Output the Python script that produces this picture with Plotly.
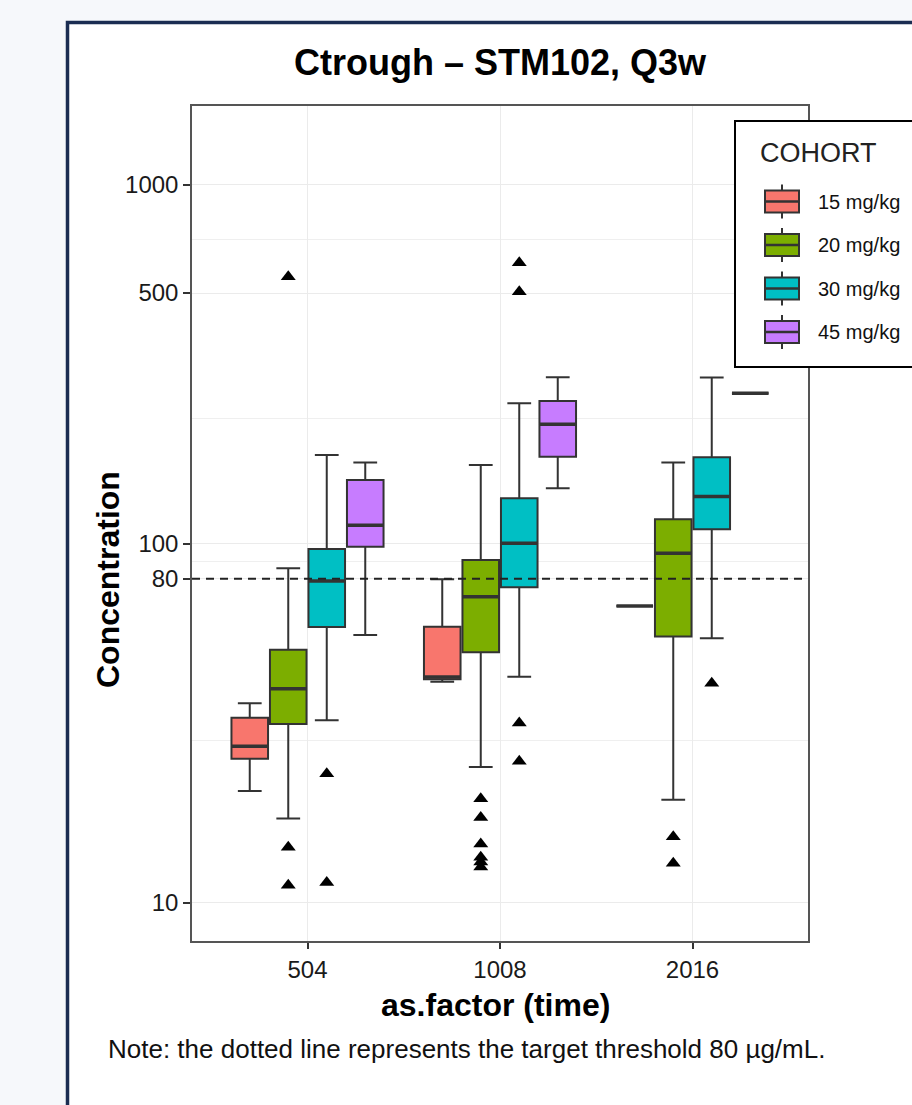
import numpy as np
import plotly.graph_objects as go

# ---------------- data ----------------
times = ["504", "1008", "2016"]
cohorts = ["15 mg/kg", "20 mg/kg", "30 mg/kg", "45 mg/kg"]
colors = ["#F8766D", "#7CAE00", "#00BFC4", "#C77CFF"]

# per-cohort box statistics at times 504, 1008, 2016
lower_15 = [20.5, 41.3, 67.2]
q1_15 = [25.2, 42.0, 67.2]
median_15 = [27.3, 42.6, 67.2]
q3_15 = [32.8, 58.8, 67.2]
upper_15 = [36.0, 79.7, 67.2]

lower_20 = [17.2, 23.9, 19.4]
q1_20 = [31.5, 49.9, 55.2]
median_20 = [39.5, 71.3, 94.2]
q3_20 = [50.7, 90.2, 117.2]
upper_20 = [85.6, 166.0, 168.5]

lower_30 = [32.3, 42.7, 54.6]
q1_30 = [58.7, 75.8, 109.9]
median_30 = [78.9, 100.5, 135.5]
q3_30 = [96.8, 134.0, 174.4]
upper_30 = [177.0, 246.6, 291.0]

lower_45 = [55.8, 143.0, 263.0]
q1_45 = [98.3, 175.1, 263.0]
median_45 = [112.7, 215.5, 263.0]
q3_45 = [150.8, 250.2, 263.0]
upper_45 = [168.5, 291.3, 263.0]

# outliers
outlier_time = ["504", "504", "504", "504", "504",
                "1008", "1008", "1008", "1008", "1008", "1008",
                "1008", "1008", "1008", "1008",
                "2016", "2016", "2016"]
outlier_cohort = ["20 mg/kg", "20 mg/kg", "20 mg/kg", "30 mg/kg", "30 mg/kg",
                  "20 mg/kg", "20 mg/kg", "20 mg/kg", "20 mg/kg", "20 mg/kg", "20 mg/kg",
                  "30 mg/kg", "30 mg/kg", "30 mg/kg", "30 mg/kg",
                  "20 mg/kg", "20 mg/kg", "30 mg/kg"]
outlier_value = [555, 14.3, 11.2, 22.9, 11.4,
                 19.5, 17.3, 14.6, 13.4, 13.0, 12.6,
                 607, 504, 31.7, 24.8,
                 15.3, 12.9, 40.9]

threshold = 80
y_ticks = [10, 80, 100, 500, 1000]

stats = {
    "15 mg/kg": (lower_15, q1_15, median_15, q3_15, upper_15),
    "20 mg/kg": (lower_20, q1_20, median_20, q3_20, upper_20),
    "30 mg/kg": (lower_30, q1_30, median_30, q3_30, upper_30),
    "45 mg/kg": (lower_45, q1_45, median_45, q3_45, upper_45),
}

# ---------------- layout helpers ----------------
SLOT = 0.2
BOXW = 0.19
FONT = "Arial, Liberation Sans, sans-serif"
EDGE = "#333333"
PAGE_BG = "#f6f8fb"

def xpos(t, c):
    return times.index(t) + (cohorts.index(c) - (len(cohorts) - 1) / 2) * SLOT

fig = go.Figure()

for c, col in zip(cohorts, colors):
    lo, q1, md, q3, up = stats[c]
    fig.add_trace(go.Box(
        name=c,
        x=[xpos(t, c) for t in times],
        lowerfence=lo, q1=q1, median=md, q3=q3, upperfence=up,
        width=BOXW,
        whiskerwidth=0.65,
        fillcolor=col,
        line=dict(color=EDGE, width=2),
        boxpoints=False,
        showlegend=False,
        hoverinfo="skip",
    ))

# thicker median bars (ggplot style)
mx, my = [], []
for c in cohorts:
    md = stats[c][2]
    for t, m in zip(times, md):
        p = xpos(t, c)
        mx += [p - BOXW / 2, p + BOXW / 2, None]
        my += [m, m, None]
fig.add_trace(go.Scatter(
    x=mx, y=my, mode="lines", line=dict(color=EDGE, width=3.5),
    showlegend=False, hoverinfo="skip",
))

fig.add_trace(go.Scatter(
    x=[xpos(t, c) for t, c in zip(outlier_time, outlier_cohort)],
    y=outlier_value,
    mode="markers",
    marker=dict(symbol="triangle-up", size=13, color="black"),
    showlegend=False,
    hoverinfo="skip",
))

fig.add_trace(go.Scatter(
    x=[-0.6, len(times) - 0.4],
    y=[threshold, threshold],
    mode="lines",
    line=dict(color="#222222", width=2, dash="8px,6px"),
    showlegend=False,
    hoverinfo="skip",
))

# geometric midpoints between major ticks -> minor grid
minor_vals = list(np.sqrt(np.array(y_ticks[:-1]) * np.array(y_ticks[1:])))

W, H = 912, 1105
L, T = 192, 106
R = W - 808
B = H - 941
pw, ph = W - L - R, H - T - B

def px_x(p):
    return (p - L) / pw

def px_y(p):
    return (H - B - p) / ph

fig.update_layout(
    width=W, height=H,
    margin=dict(l=L, r=R, t=T, b=B),
    paper_bgcolor=PAGE_BG,
    plot_bgcolor="white",
    font=dict(family=FONT, color="#111111"),
    title=dict(
        text="<b>Ctrough – STM102, Q3w</b>",
        x=0.5, xref="paper", xanchor="center",
        y=1 - 62 / H, yref="container", yanchor="middle",
        font=dict(size=36, color="#000000", family=FONT),
    ),
    xaxis=dict(
        range=[-0.6, len(times) - 0.4],
        tickmode="array", tickvals=list(range(len(times))), ticktext=times,
        showgrid=True, gridcolor="#ebebeb", gridwidth=1.3,
        zeroline=False,
        showline=True, mirror=True, linecolor="#555555", linewidth=1.5,
        ticks="outside", ticklen=6, tickcolor="#333333", tickwidth=1.5,
        tickfont=dict(size=24, color="#1a1a1a"),
    ),
    yaxis=dict(
        type="log",
        range=[0.894, 3.22],
        tickmode="array", tickvals=y_ticks, ticktext=[str(v) for v in y_ticks],
        showgrid=True, gridcolor="#ebebeb", gridwidth=1.3,
        minor=dict(tickmode="array", tickvals=minor_vals, showgrid=True,
                   gridcolor="#efefef", gridwidth=1, ticks=""),
        zeroline=False,
        showline=True, mirror=True, linecolor="#555555", linewidth=1.5,
        ticks="outside", ticklen=7, tickcolor="#333333", tickwidth=1.5,
        tickfont=dict(size=24, color="#1a1a1a"),
    ),
    showlegend=False,
)

# outer white frame with navy border
fig.add_shape(
    type="rect", xref="paper", yref="paper",
    x0=px_x(67.5), x1=px_x(960), y0=px_y(1160), y1=px_y(22.5),
    line=dict(color="#1b2d52", width=3.5), fillcolor="white", layer="below",
)

# ---- legend (drawn as box glyphs + text) ----
fig.add_shape(
    type="rect", xref="paper", yref="paper",
    x0=px_x(735), x1=px_x(960), y0=px_y(367), y1=px_y(121),
    line=dict(color="#000000", width=2), fillcolor="white", layer="above",
)
fig.add_annotation(
    text="COHORT", xref="paper", yref="paper",
    x=px_x(758), y=px_y(153), xanchor="left", yanchor="middle", showarrow=False,
    font=dict(size=27, color="#222222", family=FONT),
)
for i, (c, col) in enumerate(zip(cohorts, colors)):
    cy = 201.5 + i * 43.5
    fig.add_shape(type="line", xref="paper", yref="paper",
                  x0=px_x(782), x1=px_x(782), y0=px_y(cy + 17), y1=px_y(cy - 17),
                  line=dict(color=EDGE, width=2), layer="above")
    fig.add_shape(type="rect", xref="paper", yref="paper",
                  x0=px_x(765), x1=px_x(799), y0=px_y(cy + 11), y1=px_y(cy - 11),
                  line=dict(color=EDGE, width=2), fillcolor=col, layer="above")
    fig.add_shape(type="line", xref="paper", yref="paper",
                  x0=px_x(765), x1=px_x(799), y0=px_y(cy), y1=px_y(cy),
                  line=dict(color=EDGE, width=2.5), layer="above")
    fig.add_annotation(
        text=c, xref="paper", yref="paper",
        x=px_x(816), y=px_y(cy), xanchor="left", yanchor="middle", showarrow=False,
        font=dict(size=20, color="#111111", family=FONT),
    )

fig.add_annotation(
    text="<b>Concentration</b>", textangle=-90,
    xref="paper", yref="paper", x=px_x(108), y=px_y(580),
    xanchor="center", yanchor="middle", showarrow=False,
    font=dict(size=32, color="#000000", family=FONT),
)
fig.add_annotation(
    text="<b>as.factor (time)</b>",
    xref="paper", yref="paper", x=px_x(495), y=px_y(1005),
    xanchor="center", yanchor="middle", showarrow=False,
    font=dict(size=32, color="#000000", family=FONT),
)
fig.add_annotation(
    text="Note: the dotted line represents the target threshold 80 µg/mL.",
    xref="paper", yref="paper", x=px_x(106), y=px_y(1049),
    xanchor="left", yanchor="middle", showarrow=False,
    font=dict(size=26, color="#111111", family=FONT),
)

fig.write_html(
    "out.html",
    config={"displayModeBar": False},
    post_script="document.body.style.margin='0';"
                "document.body.style.background='" + PAGE_BG + "';"
                "document.body.style.overflow='hidden';",
)
